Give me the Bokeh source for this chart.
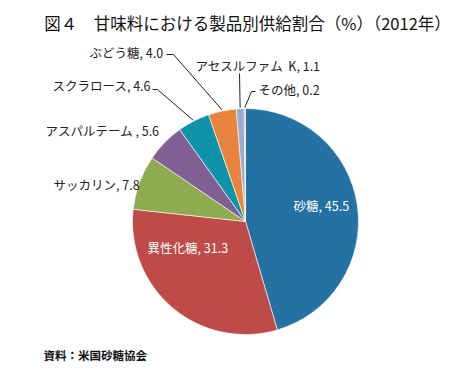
import math
from bokeh.plotting import figure
from bokeh.models import Range1d
from bokeh.core.properties import value
from bokeh.embed import file_html
from bokeh.resources import INLINE

# ---- data ----
categories = ["砂糖", "異性化糖", "サッカリン", "アスパルテーム\u00a0", "スクラロース", "ぶどう糖", "アセスルファム\u00a0 K", "その他"]
shares = [45.5, 31.3, 7.8, 5.6, 4.6, 4.0, 1.1, 0.2]
colors = ["#2471A3", "#BE4B48", "#8EAB50", "#806094", "#1093A8", "#E8843E", "#93AED4", "#E89A9A"]
title_text = "図４　甘味料における製品別供給割合（%）（2012年）"
source_text = "資料：米国砂糖協会"

# ---- layout (screen pixel coords of the 470x382 page) ----
W, H = 454, 366
CX, CY, R = 245, 221, 113
label_pos = [(293, 205), (147, 247), (53, 184), (45, 130), (52, 85), (89, 52), (195, 65), (258, 89)]
label_color = ["white", "white", "#222222", "#222222", "#222222", "#222222", "#222222", "#222222"]
# leader elbows (screen coords), None = no leader
leader_pts = [None, None, None, None,
              [(152, 89), (157, 89)],
              [(166, 54), (173, 54)],
              [(239, 73)],
              [(255, 91), (251, 91)]]

def sy(y):
    return 382 - y

p = figure(width=W, height=H, output_backend="svg", toolbar_location=None,
           x_range=Range1d(0, W), y_range=Range1d(382 - H, 382),
           min_border=0, outline_line_color=None)
p.axis.visible = False
p.grid.visible = False
p.background_fill_color = "white"
p.border_fill_color = "white"

total = sum(shares)
cum = 0.0
starts, ends, mids = [], [], []
for v in shares:
    a0 = math.pi / 2 - cum / total * 2 * math.pi
    a1 = math.pi / 2 - (cum + v) / total * 2 * math.pi
    starts.append(a0)
    ends.append(a1)
    mids.append((a0 + a1) / 2)
    cum += v

p.wedge(x=CX, y=sy(CY), radius=R, start_angle=starts, end_angle=ends,
        direction="clock", fill_color=colors, line_color="white", line_width=0.6)

# leader lines
for i, pts in enumerate(leader_pts):
    if pts is None:
        continue
    ex = CX + (R + 1) * math.cos(mids[i])
    ey = sy(CY) + (R + 1) * math.sin(mids[i])
    xs = [q[0] for q in pts] + [ex]
    ys = [sy(q[1]) for q in pts] + [ey]
    p.line(xs, ys, line_color="#222222", line_width=1)

labels = [f"{c}, {v:.1f}" for c, v in zip(categories, shares)]
p.text(x=[q[0] for q in label_pos], y=[sy(q[1]) for q in label_pos], text=labels,
       text_color=label_color, text_font=value("Noto Sans CJK JP"), text_font_size="12.5px",
       text_align="left", text_baseline="middle")

p.text(x=[247], y=[sy(22)], text=[title_text], text_color="#111111",
       text_font=value("Noto Sans CJK JP"), text_font_size="16.5px",
       text_align="center", text_baseline="middle")
p.text(x=[43], y=[sy(354)], text=[source_text], text_color="#111111",
       text_font=value("Noto Sans CJK JP"), text_font_size="11.5px", text_font_style="bold",
       text_align="left", text_baseline="middle")

open("out.html", "w").write(file_html(p, INLINE))
